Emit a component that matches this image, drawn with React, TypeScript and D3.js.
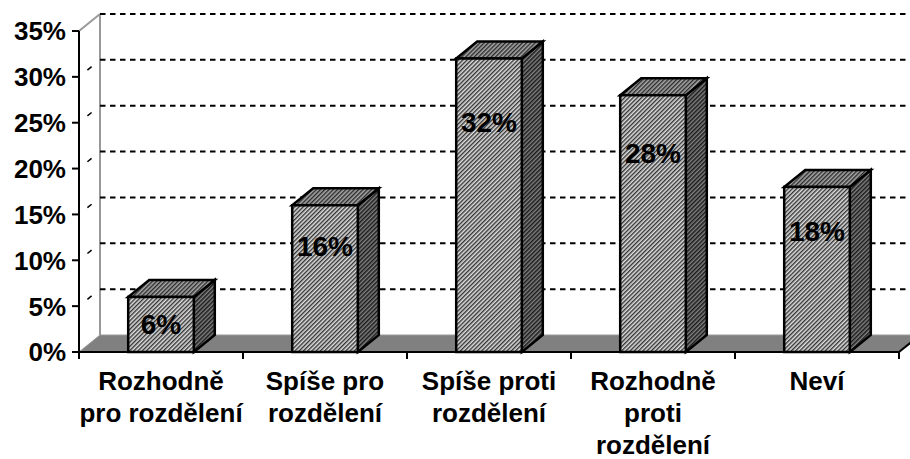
import React from "react";
import * as d3 from "d3";

const categories: string[][] = [
  ["Rozhodně", "pro rozdělení"],
  ["Spíše pro", "rozdělení"],
  ["Spíše proti", "rozdělení"],
  ["Rozhodně", "proti", "rozdělení"],
  ["Neví"],
];
const values: number[] = [0.06, 0.16, 0.32, 0.28, 0.18];
const valueLabels: string[] = ["6%", "16%", "32%", "28%", "18%"];
const yTicks: number[] = [0, 0.05, 0.1, 0.15, 0.2, 0.25, 0.3, 0.35];
const yTickLabels: string[] = ["0%", "5%", "10%", "15%", "20%", "25%", "30%", "35%"];

const W = 910;
const H = 459;
const DX = 21;
const DY = -17;
const FONT = "'Liberation Sans', Arial, sans-serif";

export default function App() {
  const keys = categories.map((c) => c.join(" "));
  const x = d3.scaleBand<string>().domain(keys).range([79, 899]).padding(0);
  const y = d3.scaleLinear().domain([0, 0.35]).range([352, 31]);
  const barW = x.bandwidth() * 0.4;
  const y0 = y(0);
  const xL = x.range()[0];
  const xR = x.range()[1];

  const pts = (arr: [number, number][]) => arr.map((p) => p.join(",")).join(" ");

  return (
    <svg
      width={W}
      height={H}
      style={{ position: "absolute", left: 0, top: 0, background: "#fff" }}
      fontFamily={FONT}
    >
      <defs>
        <pattern id="hFront" width="3" height="3" patternUnits="userSpaceOnUse" patternTransform="rotate(45)">
          <rect width="3" height="3" fill="#dedede" />
          <rect width="1.4" height="3" fill="#333" />
        </pattern>
        <pattern id="hTop" width="3" height="3" patternUnits="userSpaceOnUse" patternTransform="rotate(45)">
          <rect width="3" height="3" fill="#a8a8a8" />
          <rect width="1.4" height="3" fill="#2a2a2a" />
        </pattern>
        <pattern id="hSide" width="3" height="3" patternUnits="userSpaceOnUse" patternTransform="rotate(45)">
          <rect width="3" height="3" fill="#808080" />
          <rect width="1.5" height="3" fill="#1a1a1a" />
        </pattern>
      </defs>

      {/* floor */}
      <polygon
        points={pts([
          [xL, y0],
          [xR, y0],
          [xR + DX, y0 + DY],
          [xL + DX, y0 + DY],
        ])}
        fill="#808080"
        stroke="#9a9a9a"
        strokeWidth={1}
      />
      <line x1={xR} y1={y0} x2={xR + DX} y2={y0 + DY} stroke="#000" strokeWidth={2} />

      {/* back wall left edge and side wall top edge */}
      <line x1={xL + DX} y1={y(0.35) + DY} x2={xL + DX} y2={y0 + DY} stroke="#999" strokeWidth={2} />
      <line x1={xL} y1={y(0.35)} x2={xL + DX} y2={y(0.35) + DY} stroke="#999" strokeWidth={2} />

      {/* gridlines */}
      {yTicks
        .filter((t) => t > 0)
        .map((t, i) => (
          <g key={"g" + i}>
            <line
              x1={xL + DX}
              y1={y(t) + DY}
              x2={W}
              y2={y(t) + DY}
              stroke="#000"
              strokeWidth={2}
              strokeDasharray="5.5,4.5"
            />
            {t < 0.35 && (
              <line
                x1={xL + DX * 0.4}
                y1={y(t) + DY * 0.4}
                x2={xL + DX * 0.6}
                y2={y(t) + DY * 0.6}
                stroke="#000"
                strokeWidth={1.5}
              />
            )}
          </g>
        ))}

      {/* bars */}
      {values.map((v, i) => {
        const cx = (x(keys[i]) as number) + x.bandwidth() / 2;
        const x1 = cx - barW / 2;
        const x2 = cx + barW / 2;
        const yt = y(v);
        return (
          <g key={"b" + i} stroke="#000" strokeWidth={2.5} strokeLinejoin="miter">
            <polygon
              points={pts([
                [x2, y0],
                [x2 + DX, y0 + DY],
                [x2 + DX, yt + DY],
                [x2, yt],
              ])}
              fill="url(#hSide)"
            />
            <polygon
              points={pts([
                [x1, yt],
                [x2, yt],
                [x2 + DX, yt + DY],
                [x1 + DX, yt + DY],
              ])}
              fill="url(#hTop)"
            />
            <rect x={x1} y={yt} width={barW} height={y0 - yt} fill="url(#hFront)" />
          </g>
        );
      })}

      {/* data labels */}
      {values.map((v, i) => {
        const cx = (x(keys[i]) as number) + x.bandwidth() / 2;
        return (
          <text
            key={"l" + i}
            x={cx}
            y={y(v * 0.85) + 19}
            dy="0.36em"
            textAnchor="middle"
            fontSize={28}
            fontWeight="bold"
            fill="#000"
          >
            {valueLabels[i]}
          </text>
        );
      })}

      {/* axes */}
      <line x1={xL} y1={y(0.35)} x2={xL} y2={y0 + 6} stroke="#000" strokeWidth={2} />
      <line x1={xL} y1={y0} x2={xR} y2={y0} stroke="#000" strokeWidth={2} />
      {yTicks.map((t, i) => (
        <g key={"yt" + i}>
          <line x1={xL - 7} y1={y(t)} x2={xL} y2={y(t)} stroke="#000" strokeWidth={2} />
          <text
            x={xL - 13}
            y={y(t)}
            dy="0.36em"
            textAnchor="end"
            fontSize={26}
            fontWeight="bold"
            fill="#000"
          >
            {yTickLabels[i]}
          </text>
        </g>
      ))}
      {keys.map((k, i) => (
        <line
          key={"xt" + i}
          x1={x(k) as number}
          y1={y0}
          x2={x(k) as number}
          y2={y0 + 7}
          stroke="#000"
          strokeWidth={2}
        />
      ))}
      <line x1={xR} y1={y0} x2={xR} y2={y0 + 7} stroke="#000" strokeWidth={2} />

      {/* category labels */}
      {categories.map((lines, i) => {
        const cx = (x(keys[i]) as number) + x.bandwidth() / 2;
        return (
          <text key={"c" + i} textAnchor="middle" fontSize={26} fontWeight="bold" fill="#000">
            {lines.map((ln, j) => (
              <tspan key={j} x={cx} y={390 + j * 32}>
                {ln}
              </tspan>
            ))}
          </text>
        );
      })}
    </svg>
  );
}
